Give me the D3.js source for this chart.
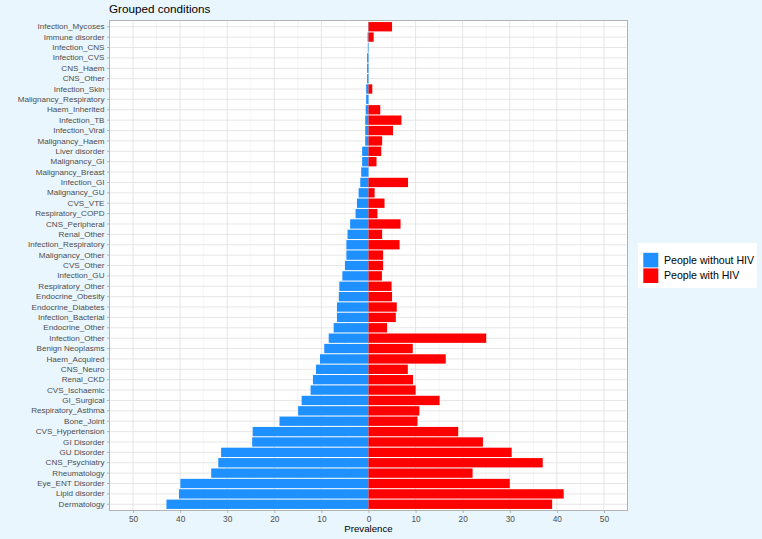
<!DOCTYPE html>
<html>
<head>
<meta charset="utf-8">
<script src="https://cdn.jsdelivr.net/npm/d3@7"></script>
<style>
  html, body { margin: 0; padding: 0; background: #EAF6FD; }
  svg { display: block; font-family: "Liberation Sans", Arial, Helvetica, sans-serif; }
</style>
</head>
<body>
<svg id="chart" width="762" height="539"></svg>
<script>
const categories = [
  "Infection_Mycoses", "Immune disorder", "Infection_CNS", "Infection_CVS", "CNS_Haem",
  "CNS_Other", "Infection_Skin", "Malignancy_Respiratory", "Haem_Inherited", "Infection_TB",
  "Infection_Viral", "Malignancy_Haem", "Liver disorder", "Malignancy_GI", "Malignancy_Breast",
  "Infection_GI", "Malignancy_GU", "CVS_VTE", "Respiratory_COPD", "CNS_Peripheral",
  "Renal_Other", "Infection_Respiratory", "Malignancy_Other", "CVS_Other", "Infection_GU",
  "Respiratory_Other", "Endocrine_Obesity", "Endocrine_Diabetes", "Infection_Bacterial", "Endocrine_Other",
  "Infection_Other", "Benign Neoplasms", "Haem_Acquired", "CNS_Neuro", "Renal_CKD",
  "CVS_Ischaemic", "GI_Surgical", "Respiratory_Asthma", "Bone_Joint", "CVS_Hypertension",
  "GI Disorder", "GU Disorder", "CNS_Psychiatry", "Rheumatology", "Eye_ENT Disorder",
  "Lipid disorder", "Dermatology"
];
// prevalence (%) among people without HIV (drawn to the left)
const withoutHIV = [
  0.05, 0.2, 0.15, 0.3, 0.3,
  0.3, 0.5, 0.5, 0.6, 0.7,
  0.7, 0.7, 1.35, 1.35, 1.55,
  1.75, 2.1, 2.45, 2.75, 3.9,
  4.45, 4.7, 4.7, 5.0, 5.55,
  6.2, 6.3, 6.7, 6.7, 7.4,
  8.45, 9.4, 10.3, 11.15, 11.8,
  12.3, 14.2, 14.95, 18.9, 24.6,
  24.7, 31.3, 31.9, 33.4, 39.95,
  40.25, 42.9
];
// prevalence (%) among people with HIV (drawn to the right)
const withHIV = [
  5.0, 1.1, 0, 0, 0,
  0, 0.8, 0, 2.5, 7.0,
  5.2, 2.9, 2.7, 1.7, 0,
  8.4, 1.3, 3.4, 1.9, 6.8,
  2.9, 6.6, 3.1, 3.1, 2.85,
  4.9, 5.0, 6.0, 5.8, 3.95,
  25.0, 9.4, 16.4, 8.35, 9.45,
  10.0, 15.1, 10.8, 10.4, 19.05,
  24.3, 30.4, 37.0, 22.1, 30.0,
  41.45, 39.0
];
const xTicks = [-50, -40, -30, -20, -10, 0, 10, 20, 30, 40, 50];
const xMinorTicks = [-55, -45, -35, -25, -15, -5, 5, 15, 25, 35, 45, 55];
const seriesNames = ["People without HIV", "People with HIV"];
const seriesColors = ["#1E90FF", "#FF0000"];

const svg = d3.select("#chart");
const W = 762, H = 539;
svg.append("rect").attr("width", W).attr("height", H).attr("fill", "#EAF6FD");

const panel = { left: 109.5, top: 20.5, right: 627.5, bottom: 510.5 };

const x = d3.scaleLinear().domain([-55, 55]).range([panel.left, panel.right]);
const y = d3.scaleBand().domain(categories).range([panel.top, panel.bottom])
  .paddingInner(0.1).paddingOuter(0.15);

const g = svg.append("g");

// panel background
g.append("rect")
  .attr("x", panel.left).attr("y", panel.top)
  .attr("width", panel.right - panel.left).attr("height", panel.bottom - panel.top)
  .attr("fill", "#FFFFFF");

// minor vertical grid
g.selectAll(".minor").data(xMinorTicks.filter(d => x(d) > panel.left + 1 && x(d) < panel.right - 1)).join("line")
  .attr("x1", d => x(d)).attr("x2", d => x(d))
  .attr("y1", panel.top).attr("y2", panel.bottom)
  .attr("stroke", "#EFEFEF").attr("stroke-width", 0.6);
// major vertical grid
g.selectAll(".vmajor").data(xTicks).join("line")
  .attr("x1", d => x(d)).attr("x2", d => x(d))
  .attr("y1", panel.top).attr("y2", panel.bottom)
  .attr("stroke", "#E0E0E0").attr("stroke-width", 0.8);
// horizontal grid at categories
g.selectAll(".hmajor").data(categories).join("line")
  .attr("x1", panel.left).attr("x2", panel.right)
  .attr("y1", d => y(d) + y.bandwidth() / 2).attr("y2", d => y(d) + y.bandwidth() / 2)
  .attr("stroke", "#E0E0E0").attr("stroke-width", 0.8);

// bars
const rows = categories.map((c, i) => ({ c, a: withoutHIV[i], b: withHIV[i] }));
g.selectAll(".barA").data(rows).join("rect")
  .attr("x", d => x(-d.a)).attr("width", d => x(0) - x(-d.a))
  .attr("y", d => y(d.c)).attr("height", y.bandwidth())
  .attr("fill", seriesColors[0]);
g.selectAll(".barB").data(rows.filter(d => d.b > 0)).join("rect")
  .attr("x", x(0)).attr("width", d => x(d.b) - x(0))
  .attr("y", d => y(d.c)).attr("height", y.bandwidth())
  .attr("fill", seriesColors[1]);

// panel border
g.append("rect")
  .attr("x", panel.left).attr("y", panel.top)
  .attr("width", panel.right - panel.left).attr("height", panel.bottom - panel.top)
  .attr("fill", "none").attr("stroke", "#B3B3B3").attr("stroke-width", 1);

// x axis
const xAxis = d3.axisBottom(x).tickValues(xTicks).tickFormat(d => Math.abs(d)).tickSize(2.5).tickPadding(3);
const xg = svg.append("g").attr("transform", `translate(0,${panel.bottom})`).call(xAxis);
xg.select(".domain").remove();
xg.selectAll(".tick line").attr("stroke", "#B3B3B3");
xg.selectAll(".tick text").attr("fill", "#4D4D4D").attr("font-size", "8.3px")
  .attr("font-family", "Liberation Sans, Arial, sans-serif");

// y axis
const yAxis = d3.axisLeft(y).tickSize(2.5).tickPadding(2.5);
const yg = svg.append("g").attr("transform", `translate(${panel.left},0)`).call(yAxis);
yg.select(".domain").remove();
yg.selectAll(".tick line").attr("stroke", "#B3B3B3");
yg.selectAll(".tick text").attr("fill", "#4D4D4D").attr("font-size", "8.1px")
  .attr("font-family", "Liberation Sans, Arial, sans-serif");

// x axis title
svg.append("text").attr("x", x(0)).attr("y", 532)
  .attr("text-anchor", "middle").attr("font-size", "9.7px").attr("fill", "#000")
  .text("Prevalence");

// title
svg.append("text").attr("x", 109).attr("y", 13)
  .attr("font-size", "11.7px").attr("fill", "#000")
  .text("Grouped conditions");

// legend
const lg = svg.append("g");
lg.append("rect").attr("x", 638).attr("y", 243).attr("width", 119).attr("height", 45).attr("fill", "#FFFFFF");
seriesNames.forEach((name, i) => {
  const yy = 252.8 + i * 15.6;
  lg.append("rect").attr("x", 643.3).attr("y", yy).attr("width", 15).attr("height", 14.6)
    .attr("fill", seriesColors[i]);
  lg.append("text").attr("x", 664).attr("y", yy + 11)
    .attr("font-size", "10.6px").attr("fill", "#000").text(name);
});
</script>
</body>
</html>
